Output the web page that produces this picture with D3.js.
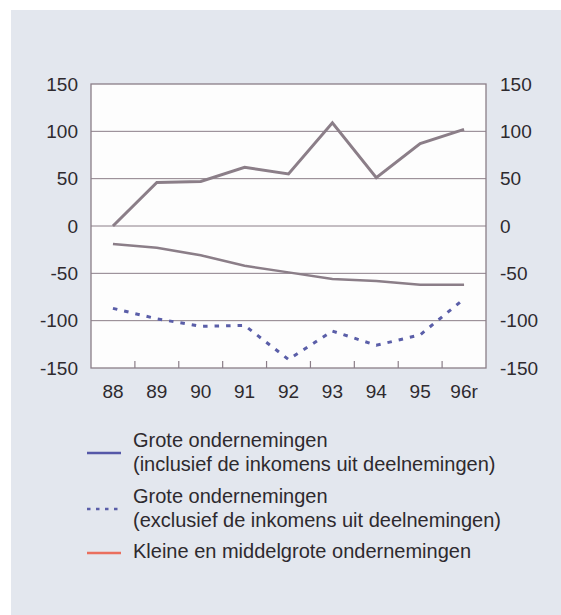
<!DOCTYPE html>
<html>
<head>
<meta charset="utf-8">
<script src="https://cdn.jsdelivr.net/npm/d3@7"></script>
<style>
  body { margin: 0; background: #fff; }
  text { font-family: "Liberation Sans", Arial, sans-serif; fill: #2e2a2e; }
</style>
</head>
<body>
<div id="chart"></div>
<script>
// data
var years = ["88", "89", "90", "91", "92", "93", "94", "95", "96r"];
var groteIncl = [0, 46, 47, 62, 55, 109, 51, 87, 102];
var groteExcl = [-87, -98, -106, -105, -141, -111, -126, -115, -77];
var kleineMkb = [-19, -23, -31, -42, -49, -56, -58, -62, -62];
var yTicks = [-150, -100, -50, 0, 50, 100, 150];
var legendLabels = [
  ["Grote ondernemingen", "(inclusief de inkomens uit deelnemingen)"],
  ["Grote ondernemingen", "(exclusief de inkomens uit deelnemingen)"],
  ["Kleine en middelgrote ondernemingen"]
];

var W = 561, H = 615;
var plot = {left: 91, right: 486, top: 84, bottom: 368};
var lineColor = "#8b7e88";

var svg = d3.select("#chart")
  .append("svg")
  .attr("width", W)
  .attr("height", H);

// panel background
svg.append("rect")
  .attr("x", 11).attr("y", 10)
  .attr("width", W - 11).attr("height", H - 10)
  .attr("fill", "#e3e7ee");

var x = d3.scaleBand()
  .domain(years)
  .range([plot.left, plot.right])
  .padding(0);

var y = d3.scaleLinear()
  .domain([-150, 150])
  .range([plot.bottom, plot.top]);

// plot area
svg.append("rect")
  .attr("x", plot.left).attr("y", plot.top)
  .attr("width", plot.right - plot.left)
  .attr("height", plot.bottom - plot.top)
  .attr("fill", "#fdfdfd");

// gridlines
svg.append("g")
  .selectAll("line")
  .data(yTicks.slice(1, -1))
  .enter()
  .append("line")
  .attr("x1", plot.left).attr("x2", plot.right)
  .attr("y1", function(d) { return y(d); })
  .attr("y2", function(d) { return y(d); })
  .attr("stroke", lineColor)
  .attr("stroke-width", 1);

// frame
svg.append("rect")
  .attr("x", plot.left).attr("y", plot.top)
  .attr("width", plot.right - plot.left)
  .attr("height", plot.bottom - plot.top)
  .attr("fill", "none")
  .attr("stroke", lineColor)
  .attr("stroke-width", 1.3);

// small ticks between the years
svg.append("g")
  .selectAll("line")
  .data(years.slice(1))
  .enter()
  .append("line")
  .attr("x1", function(d) { return x(d); })
  .attr("x2", function(d) { return x(d); })
  .attr("y1", plot.bottom)
  .attr("y2", plot.bottom - 7)
  .attr("stroke", lineColor)
  .attr("stroke-width", 1.2);

// axes (labels only), plain hyphen for negatives
var fmt = function(d) { return String(d); };
var yLeft = d3.axisLeft(y).tickValues(yTicks).tickFormat(fmt).tickSize(0).tickPadding(13);
var yRight = d3.axisRight(y).tickValues(yTicks).tickFormat(fmt).tickSize(0).tickPadding(14);
var xAxis = d3.axisBottom(x).tickSize(0).tickPadding(17);

function styleAxis(g) {
  g.select(".domain").remove();
  g.selectAll("text")
    .attr("font-size", 19)
    .attr("font-family", "Liberation Sans, Arial, sans-serif")
    .attr("fill", "#2e2a2e");
}

svg.append("g")
  .attr("transform", "translate(" + plot.left + ",0)")
  .call(yLeft).call(styleAxis);

svg.append("g")
  .attr("transform", "translate(" + plot.right + ",0)")
  .call(yRight).call(styleAxis);

svg.append("g")
  .attr("transform", "translate(0," + plot.bottom + ")")
  .call(xAxis).call(styleAxis);

// lines
var line = d3.line()
  .x(function(d, i) { return x(years[i]) + x.bandwidth() / 2; })
  .y(function(d) { return y(d); });

svg.append("path")
  .datum(kleineMkb)
  .attr("d", line)
  .attr("fill", "none")
  .attr("stroke", lineColor)
  .attr("stroke-width", 2.5);

svg.append("path")
  .datum(groteIncl)
  .attr("d", line)
  .attr("fill", "none")
  .attr("stroke", lineColor)
  .attr("stroke-width", 3);

svg.append("path")
  .datum(groteExcl)
  .attr("d", line)
  .attr("fill", "none")
  .attr("stroke", "#5a5ea8")
  .attr("stroke-width", 3)
  .attr("stroke-dasharray", "4.5,7");

// legend
var legendRows = [
  {top: 440, swatchY: 453, color: "#5558a8", dash: null},
  {top: 496, swatchY: 509, color: "#5a5ea8", dash: "3.5,5.5"},
  {top: 551, swatchY: 553, color: "#ea6f5e", dash: null}
];

var legend = svg.append("g");

legendRows.forEach(function(r, i) {
  legend.append("line")
    .attr("x1", 87).attr("x2", 121)
    .attr("y1", r.swatchY).attr("y2", r.swatchY)
    .attr("stroke", r.color)
    .attr("stroke-width", 2.5)
    .attr("stroke-dasharray", r.dash);

  legendLabels[i].forEach(function(t, j) {
    legend.append("text")
      .attr("x", 133)
      .attr("y", r.top + j * 24)
      .attr("dy", "0.35em")
      .attr("font-size", 20)
      .text(t);
  });
});
</script>
</body>
</html>
